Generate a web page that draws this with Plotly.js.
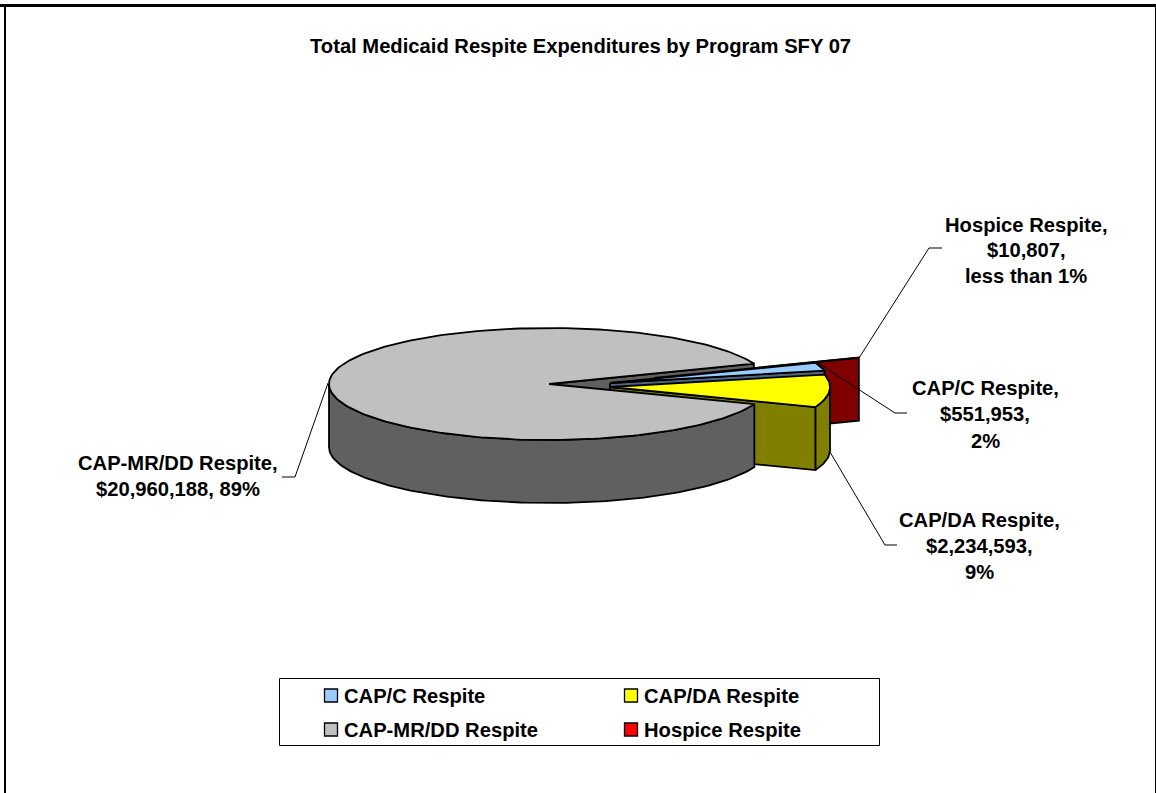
<!DOCTYPE html>
<html>
<head>
<meta charset="utf-8">
<script src="https://cdn.plot.ly/plotly-3.0.1.min.js"></script>
<style>html,body{margin:0;padding:0;background:#fff;overflow:hidden}#chart{width:1156px;height:793px}</style>
</head>
<body>
<div id="chart"></div>
<script>
// ---- data ----
const categories = ['CAP/C Respite', 'CAP/DA Respite', 'CAP-MR/DD Respite', 'Hospice Respite'];
const values = [551953, 2234593, 20960188, 10807];
const percentLabels = ['2%', '9%', '89%', 'less than 1%'];
const topColors = ['#99CCFF', '#FFFF00', '#C0C0C0', '#FF0000'];
const sideColors = ['#4C667F', '#808000', '#606060', '#800000'];
const chartTitle = 'Total Medicaid Respite Expenditures by Program SFY 07';

// ---- pie geometry (a tilted pie, computed from the values) ----
const FONT = '"Liberation Sans", Arial, sans-serif';
const LABEL_SIZE = 20.2;
const CX = 549, CY = 384, RX = 220, RY = 56, DEPTH = 63;
const START_DEG = -21.2;
const offsets = [[61, -1], [61, 3], [0, 0], [105, -6]];

const total = values.reduce((a, b) => a + b, 0);
const slices = [];
let cursor = START_DEG;
values.forEach((v, i) => {
  const sweep = v / total * 360;
  slices.push({a0: cursor, a1: cursor + sweep, cx: CX + offsets[i][0], cy: CY + offsets[i][1]});
  cursor += sweep;
});
function rim(s, deg, dz) {
  const t = deg * Math.PI / 180;
  return [s.cx + RX * Math.cos(t), s.cy + RY * Math.sin(t) + (dz || 0)];
}
function arc(s, a0, a1, dz) {
  const n = Math.max(2, Math.ceil(Math.abs(a1 - a0) / 1.5));
  const pts = [];
  for (let k = 0; k <= n; k++) pts.push(rim(s, a0 + (a1 - a0) * k / n, dz));
  return pts;
}
function poly(pts, fill, w) {
  const closed = pts.concat([pts[0]]);
  return {
    type: 'scatter', mode: 'lines', fill: 'toself', fillcolor: fill,
    x: closed.map(p => p[0]), y: closed.map(p => p[1]),
    line: {color: '#000', width: w === undefined ? 1.8 : w},
    hoverinfo: 'skip', showlegend: false
  };
}
function topFace(i) {
  const s = slices[i];
  return poly([[s.cx, s.cy]].concat(arc(s, s.a0, s.a1)), topColors[i]);
}
function cutFace(i, deg) {
  const s = slices[i], a = rim(s, deg), b = rim(s, deg, DEPTH);
  return poly([[s.cx, s.cy], a, b, [s.cx, s.cy + DEPTH]], sideColors[i]);
}
function wall(i, a0, a1) {
  const s = slices[i];
  return poly(arc(s, a0, a1).concat(arc(s, a1, a0, DEPTH)), sideColors[i]);
}
const [C, DA, MR, H] = [0, 1, 2, 3];
const traces = [
  cutFace(H, slices[H].a0),
  cutFace(MR, slices[MR].a1 - 360),
  cutFace(C, slices[C].a1),
  wall(DA, 0, slices[DA].a1),
  cutFace(DA, slices[DA].a1),
  wall(MR, slices[MR].a0, 180),
  topFace(MR),
  topFace(H),
  topFace(C),
  topFace(DA)
];

// ---- legend swatches ----
const legendCells = [[331, 695.5], [631, 695.5], [331, 729.5], [631, 729.5]];
traces.push({
  type: 'scatter', mode: 'markers',
  x: legendCells.map(c => c[0]), y: legendCells.map(c => c[1]),
  marker: {symbol: 'square', size: 13, color: topColors, line: {color: '#000', width: 1.3}},
  hoverinfo: 'skip', showlegend: false
});

// ---- leader lines ----
const leaders = [
  [[818, 363], [895, 413], [907, 413]],
  [[830, 452], [885, 545], [897, 545]],
  [[328, 383], [295, 477], [282, 477]],
  [[859, 358], [929, 248], [942, 248]]
];
leaders.forEach(l => traces.push({
  type: 'scatter', mode: 'lines',
  x: l.map(p => p[0]), y: l.map(p => p[1]),
  line: {color: '#000', width: 1}, hoverinfo: 'skip', showlegend: false
}));

// ---- text ----
const money = v => '$' + v.toLocaleString('en-US');
const labelLines = [
  [categories[0] + ',', money(values[0]) + ',', percentLabels[0]],
  [categories[1] + ',', money(values[1]) + ',', percentLabels[1]],
  [categories[2] + ',', money(values[2]) + ', ' + percentLabels[2]],
  [categories[3] + ',', money(values[3]) + ',', percentLabels[3]]
];
const labelPlaces = [
  {x: 985, y: [388, 414, 441]},
  {x: 979, y: [520, 546, 572]},
  {x: 178, y: [463, 489]},
  {x: 1026, y: [225, 250, 276]}
];
const annotations = [];
function text(t, x, y, size, anchor) {
  annotations.push({
    text: t, x: x, y: y, xref: 'x', yref: 'y', showarrow: false,
    xanchor: anchor || 'center', yanchor: 'middle',
    font: {family: FONT, size: size, color: '#000', weight: 700}
  });
}
text('<b>' + chartTitle + '</b>', 580, 46, 20.2);
labelLines.forEach((lines, i) => lines.forEach((ln, j) =>
  text('<b>' + ln + '</b>', labelPlaces[i].x, labelPlaces[i].y[j], LABEL_SIZE)));
categories.forEach((c, i) => text('<b>' + c + '</b>', legendCells[i][0] + 10.5, legendCells[i][1] + 0.5, LABEL_SIZE, 'left'));

const frame = {type: 'rect', xref: 'x', yref: 'y', line: {width: 0}, fillcolor: '#000', layer: 'above'};
const layout = {
  width: 1156, height: 793,
  margin: {l: 0, r: 0, t: 0, b: 0, pad: 0},
  paper_bgcolor: '#fff', plot_bgcolor: '#fff', showlegend: false,
  xaxis: {range: [0, 1156], visible: false, fixedrange: true},
  yaxis: {range: [793, 0], visible: false, fixedrange: true},
  annotations: annotations,
  shapes: [
    Object.assign({}, frame, {x0: 0, x1: 1156, y0: 4, y1: 7}),
    Object.assign({}, frame, {x0: 4, x1: 6, y0: 4, y1: 793}),
    Object.assign({}, frame, {x0: 1155, x1: 1156, y0: 4, y1: 793}),
    {type: 'rect', xref: 'x', yref: 'y', x0: 279.5, x1: 879.5, y0: 678.5, y1: 745.5,
     line: {color: '#000', width: 1}, fillcolor: 'rgba(0,0,0,0)', layer: 'below'}
  ]
};
Plotly.newPlot('chart', traces, layout, {displayModeBar: false, staticPlot: true});
</script>
</body>
</html>
